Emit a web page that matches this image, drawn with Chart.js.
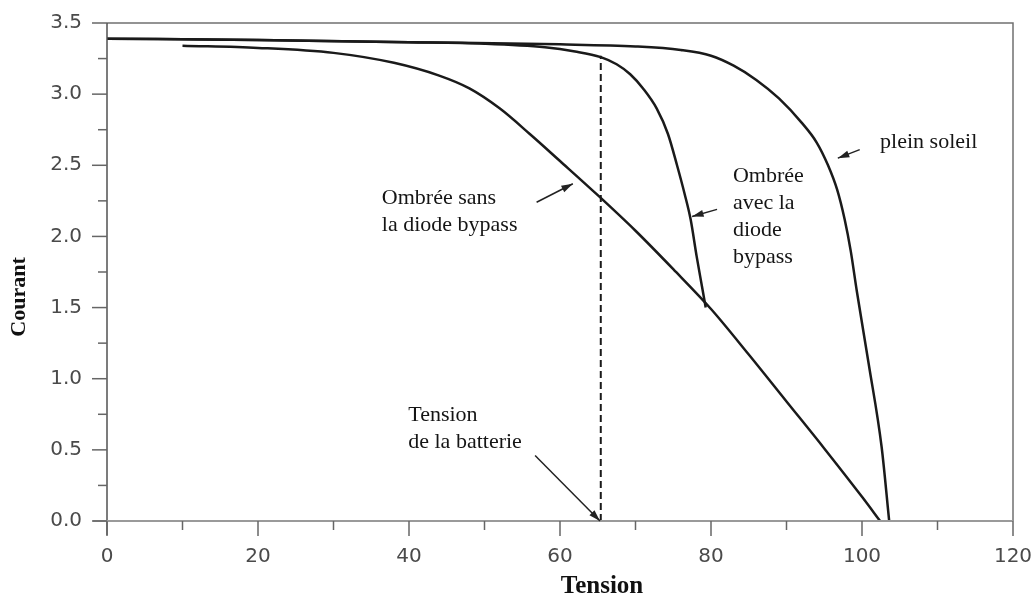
<!DOCTYPE html>
<html>
<head>
<meta charset="utf-8">
<script src="https://cdn.jsdelivr.net/npm/chart.js@4.4.0/dist/chart.umd.min.js"></script>
<style>
    body { margin: 0; background: #fff; }
    #wrap { width: 1035px; height: 600px; }
</style>
</head>
<body>
<div id="wrap"><canvas id="ivChart" width="1035" height="600"></canvas></div>
<script>
//Plein soleil curve
const soleilV = [0, 20, 40, 60, 70, 76, 80, 83, 86, 89, 92, 94, 95.5, 96.7, 97.7, 98.5, 99.3, 100.9, 102.6, 103.6];
const soleilI = [3.39, 3.38, 3.365, 3.35, 3.335, 3.31, 3.27, 3.2, 3.1, 2.97, 2.8, 2.66, 2.5, 2.33, 2.12, 1.9, 1.62, 1.1, 0.52, 0];

//Ombree avec la diode bypass
const avecV = [0, 20, 40, 50, 58, 62, 65.4, 67.5, 69.3, 71, 72.8, 74.3, 75.5, 76.5, 77.3, 78.1, 78.8, 79.3];
const avecI = [3.39, 3.38, 3.365, 3.355, 3.33, 3.3, 3.26, 3.21, 3.14, 3.04, 2.9, 2.72, 2.5, 2.3, 2.12, 1.86, 1.65, 1.5];

//Ombree sans la diode bypass
const sansV = [10, 20, 30, 38, 44, 48, 52, 56, 60, 65, 70, 75, 80, 85, 90, 95, 100, 102.4];
const sansI = [3.34, 3.325, 3.29, 3.22, 3.13, 3.04, 2.9, 2.72, 2.53, 2.29, 2.04, 1.77, 1.49, 1.17, 0.84, 0.51, 0.17, 0];

//Tension de la batterie
const batteryV = 65.4;
const batteryTop = 3.27;

//Axis ticks
const xMajor = [0, 20, 40, 60, 80, 100, 120];
const yMajor = [0, 0.5, 1, 1.5, 2, 2.5, 3, 3.5];

//Annotations (data coordinates)
const noteTexts = [
    ["Ombrée sans", "la diode bypass"],
    ["Ombrée", "avec la", "diode", "bypass"],
    ["plein soleil"],
    ["Tension", "de la batterie"]
];
const noteV = [36.4, 82.9, 102.4, 39.9];
const noteI = [2.27, 2.42, 2.66, 0.745];
const arrowFrom = [[56.9, 2.24], [80.8, 2.19], [99.7, 2.61], [56.7, 0.46]];
const arrowTo = [[61.7, 2.37], [77.5, 2.14], [96.8, 2.55], [65.3, 0]];

function toPoints(xs, ys) {
    return xs.map((v, i) => ({ x: v, y: ys[i] }));
}

const curveStyle = {
    showLine: true,
    borderColor: "#1a1a1a",
    borderWidth: 2.5,
    pointRadius: 0,
    cubicInterpolationMode: "monotone",
    fill: false
};

//Frame, ticks, titles and notes
const decorations = {

    id: "decorations",

    afterDraw(chart) {

        const { ctx, chartArea: a, scales: { x, y } } = chart;

        ctx.save();

        //top and right frame
        ctx.strokeStyle = "#707070";
        ctx.lineWidth = 1.5;
        ctx.beginPath();
        ctx.moveTo(a.left, a.top);
        ctx.lineTo(a.right, a.top);
        ctx.lineTo(a.right, a.bottom);
        ctx.stroke();

        //left axis
        ctx.strokeStyle = "#505050";
        ctx.beginPath();
        ctx.moveTo(a.left, a.top);
        ctx.lineTo(a.left, a.bottom + 14);
        ctx.stroke();

        //bottom axis
        ctx.strokeStyle = "#9a9a9a";
        ctx.lineWidth = 2;
        ctx.beginPath();
        ctx.moveTo(a.left - 14, a.bottom);
        ctx.lineTo(a.right, a.bottom);
        ctx.stroke();

        //x ticks
        ctx.lineWidth = 1.5;
        ctx.strokeStyle = "#666";
        x.ticks.forEach(t => {
            const px = x.getPixelForValue(t.value);
            const len = xMajor.includes(t.value) ? 15 : 9;
            ctx.beginPath();
            ctx.moveTo(px, a.bottom);
            ctx.lineTo(px, a.bottom + len);
            ctx.stroke();
        });

        //y ticks
        y.ticks.forEach(t => {
            const py = y.getPixelForValue(t.value);
            const len = yMajor.includes(t.value) ? 15 : 9;
            ctx.beginPath();
            ctx.moveTo(a.left - len, py);
            ctx.lineTo(a.left, py);
            ctx.stroke();
        });

        //axis titles
        ctx.fillStyle = "#111";
        ctx.font = "bold 25px 'Liberation Serif'";
        ctx.textAlign = "center";
        ctx.textBaseline = "middle";
        ctx.fillText("Tension", 602, 587);

        ctx.save();
        ctx.translate(19, 297);
        ctx.rotate(-Math.PI / 2);
        ctx.font = "bold 22px 'Liberation Serif'";
        ctx.fillText("Courant", 0, 0);
        ctx.restore();

        //annotations
        ctx.font = "22px 'Liberation Serif'";
        ctx.textAlign = "left";
        ctx.fillStyle = "#151515";
        noteTexts.forEach((lines, i) => {
            const px = x.getPixelForValue(noteV[i]);
            const py = y.getPixelForValue(noteI[i]);
            lines.forEach((line, j) => {
                ctx.fillText(line, px, py + j * 27);
            });
        });

        //arrows
        ctx.strokeStyle = "#222";
        ctx.fillStyle = "#222";
        ctx.lineWidth = 1.5;
        arrowFrom.forEach((from, i) => {
            const x0 = x.getPixelForValue(from[0]);
            const y0 = y.getPixelForValue(from[1]);
            const x1 = x.getPixelForValue(arrowTo[i][0]);
            const y1 = y.getPixelForValue(arrowTo[i][1]);
            const ang = Math.atan2(y1 - y0, x1 - x0);
            ctx.beginPath();
            ctx.moveTo(x0, y0);
            ctx.lineTo(x1, y1);
            ctx.stroke();
            ctx.beginPath();
            ctx.moveTo(x1, y1);
            ctx.lineTo(x1 - 12 * Math.cos(ang - 0.3), y1 - 12 * Math.sin(ang - 0.3));
            ctx.lineTo(x1 - 12 * Math.cos(ang + 0.3), y1 - 12 * Math.sin(ang + 0.3));
            ctx.closePath();
            ctx.fill();
        });

        ctx.restore();

    }

};

new Chart(document.querySelector("#ivChart"), {

    type: "scatter",

    data: {

        datasets: [
            { ...curveStyle, label: "plein soleil", data: toPoints(soleilV, soleilI) },
            { ...curveStyle, label: "Ombrée avec la diode bypass", data: toPoints(avecV, avecI) },
            { ...curveStyle, label: "Ombrée sans la diode bypass", data: toPoints(sansV, sansI) },
            {
                label: "Tension de la batterie",
                data: [{ x: batteryV, y: 0 }, { x: batteryV, y: batteryTop }],
                showLine: true,
                borderColor: "#1a1a1a",
                borderWidth: 2,
                borderDash: [7, 4],
                pointRadius: 0,
                tension: 0
            }
        ]

    },

    options: {

        responsive: false,
        animation: false,
        devicePixelRatio: 1,

        layout: {
            padding: { left: 0, right: 22, top: 23, bottom: 0 }
        },

        plugins: {
            legend: { display: false },
            tooltip: { enabled: false }
        },

        scales: {

            x: {
                type: "linear",
                min: 0,
                max: 120,
                grid: { display: false, drawTicks: false },
                border: { display: false },
                ticks: {
                    stepSize: 10,
                    padding: 24,
                    color: "#4a4a4a",
                    font: { family: "'DejaVu Sans'", size: 20 },
                    callback: v => (xMajor.includes(v) ? v : "")
                },
                afterFit: scale => {
                    scale.height = 79;
                    scale.paddingLeft = 0;
                    scale.paddingRight = 0;
                }
            },

            y: {
                type: "linear",
                min: 0,
                max: 3.5,
                grid: { display: false, drawTicks: false },
                border: { display: false },
                ticks: {
                    stepSize: 0.25,
                    padding: 25,
                    color: "#4a4a4a",
                    font: { family: "'DejaVu Sans'", size: 20 },
                    callback: v => (yMajor.includes(v) ? v.toFixed(1) : "")
                },
                afterFit: scale => {
                    scale.width = 107;
                    scale.paddingTop = 0;
                    scale.paddingBottom = 0;
                }
            }

        }

    },

    plugins: [decorations]

});
</script>
</body>
</html>
